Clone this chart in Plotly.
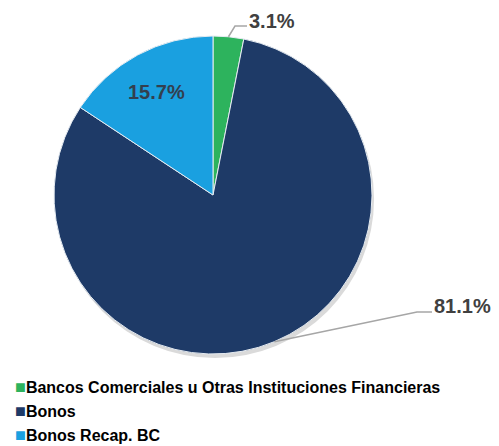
import math
import plotly.graph_objects as go

# ---------------- data ----------------
labels = [
    "Bancos Comerciales u Otras Instituciones Financieras",
    "Bonos",
    "Bonos Recap. BC",
]
shares = [3.1, 81.1, 15.7]
colors = ["#2DB35D", "#1E3A67", "#1AA0E0"]

# the page body adds an 8px margin, so the figure is drawn that much smaller
PAGE_OFF = 8
W, H = 499 - PAGE_OFF, 446 - PAGE_OFF

# pie placement in window pixels (centre + radius)
CX, CY, R = 213, 195, 159


def px_x(x):
    return (x - PAGE_OFF) / W


def px_y(y):
    return 1 - (y - PAGE_OFF) / H


def edge_point(idx):
    # point on the rim at the middle of slice idx (clockwise from 12 o'clock)
    total = sum(shares)
    before = sum(shares[:idx])
    ang = (before + shares[idx] / 2) / total * 2 * math.pi
    return CX + R * math.sin(ang), CY - R * math.cos(ang)


fig = go.Figure()

# soft drop shadow under the pie
fig.add_trace(go.Pie(
    values=[1], labels=["shadow"], sort=False, textinfo="none", hoverinfo="skip",
    showlegend=False,
    marker=dict(colors=["#DADADA"], line=dict(width=0)),
    domain=dict(x=[px_x(CX - R + 2), px_x(CX + R + 2)],
                y=[px_y(CY + R + 4), px_y(CY - R + 4)]),
))

fig.add_trace(go.Pie(
    labels=labels,
    values=shares,
    sort=False,
    direction="clockwise",
    rotation=0,
    textinfo="none",
    hoverinfo="label+percent",
    showlegend=False,
    marker=dict(colors=colors, line=dict(color="#E6ECF2", width=1)),
    domain=dict(x=[px_x(CX - R), px_x(CX + R)], y=[px_y(CY + R), px_y(CY - R)]),
))

label_font = dict(family="Liberation Sans, Arial, sans-serif", size=20, color="#404040")

# outside labels with leader lines: (slice index, elbow px, text-left px)
outside = [
    (0, (235, 26), (247, 21)),
    (1, (417, 312), (432, 306)),
]
for idx, elbow, txt in outside:
    sx, sy = edge_point(idx)
    fig.add_shape(type="path", xref="paper", yref="paper",
                  path=f"M {px_x(sx)} {px_y(sy)} L {px_x(elbow[0])} {px_y(elbow[1])} "
                       f"L {px_x(txt[0])} {px_y(elbow[1])}",
                  line=dict(color="#A6A6A6", width=1.5))
    fig.add_annotation(x=px_x(txt[0]), y=px_y(txt[1]), xref="paper", yref="paper",
                       xanchor="left", yanchor="middle", showarrow=False,
                       text=f"<b>{shares[idx]:.1f}%</b>", font=label_font)

# inside label for Bonos Recap. BC
fig.add_annotation(x=px_x(156), y=px_y(92), xref="paper", yref="paper",
                   xanchor="center", yanchor="middle", showarrow=False,
                   text=f"<b>{shares[2]:.1f}%</b>", font=dict(label_font, color="#333F4F"))

# legend below the pie: coloured square + bold label, one row per slice
legend_rows_y = [387, 411, 435]
for lab, col, ry in zip(labels, colors, legend_rows_y):
    fig.add_annotation(
        x=px_x(13), y=px_y(ry), xref="paper", yref="paper",
        xanchor="left", yanchor="middle", showarrow=False,
        text=f'<span style="color:{col};font-size:18px">■</span><b>{lab}</b>',
        font=dict(family="Liberation Sans, Arial, sans-serif", size=16, color="#000000"),
    )

fig.update_layout(
    width=W, height=H,
    margin=dict(l=0, r=0, t=0, b=0, autoexpand=False),
    paper_bgcolor="white",
    plot_bgcolor="white",
    showlegend=False,
)

fig.write_html("out.html")
